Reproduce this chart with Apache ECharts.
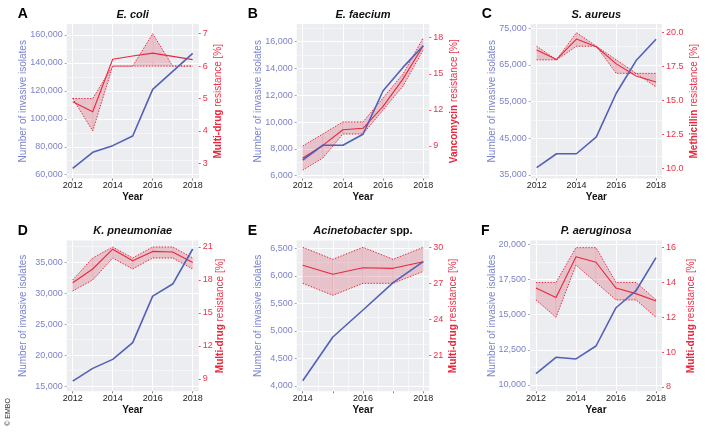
<!DOCTYPE html>
<html>
<head>
<meta charset="utf-8">
<script src="https://cdn.jsdelivr.net/npm/echarts@6/dist/echarts.min.js"></script>
<style>
  html, body { margin: 0; background: #fff; }
  #chart { width: 709px; height: 433px; }
</style>
</head>
<body>
<div id="chart"></div>
<script>
// ---- data ----
const years = [2012, 2013, 2014, 2015, 2016, 2017, 2018];
const yearsAcin = [2014, 2015, 2016, 2017, 2018];

const ecoliIsolates = [64600, 76000, 80800, 87700, 121100, 134000, 146900];
const ecoliMean = [4.9, 4.59, 6.21, 6.31, 6.4, 6.3, 6.2];
const ecoliUpper = [5, 5, 6, 6, 7, 6, 6];
const ecoliLower = [5, 4, 6, 6, 6, 6, 6];

const faeciumIsolates = [7170, 8270, 8270, 9090, 12340, 14100, 15700];
const faeciumMean = [8.0, 9.05, 10.35, 10.47, 12.3, 14.6, 17.33];
const faeciumUpper = [9, 10, 11, 11, 13, 15, 18];
const faeciumLower = [7, 8, 10, 10, 12, 14, 17];

const aureusIsolates = [37000, 40800, 40800, 45400, 57300, 66200, 72000];
const aureusMean = [18.72, 18.03, 19.53, 18.96, 17.7, 16.8, 16.36];
const aureusUpper = [19, 18, 20, 19, 18, 17, 17];
const aureusLower = [18, 18, 19, 19, 17, 17, 16];

const kpneuIsolates = [15800, 17850, 19300, 22000, 29500, 31450, 37100];
const kpneuMean = [17.75, 19.0, 20.8, 19.75, 20.6, 20.55, 19.6];
const kpneuUpper = [18, 20, 21, 20, 21, 21, 20];
const kpneuLower = [17, 18, 20, 19, 20, 20, 19];

const acinIsolates = [4096, 4890, 5380, 5876, 6257];
const acinMean = [28.5, 27.75, 28.3, 28.25, 28.8];
const acinUpper = [30, 29, 30, 29, 30];
const acinLower = [27, 26, 27, 27, 28];

const aerugIsolates = [10800, 11970, 11850, 12770, 15490, 16700, 19050];
const aerugMean = [13.68, 13.13, 15.48, 15.16, 13.68, 13.36, 12.94];
const aerugUpper = [14, 14, 16, 16, 14, 14, 13];
const aerugLower = [13, 12, 15, 14, 13, 13, 12];

// tick labels
const yearTicks = [2012, 2014, 2016, 2018];
const yearTicksAcin = [2014, 2015, 2016, 2017, 2018];
const yearLabelsAcin = [2014, 2016, 2018];
const ecoliLeftTicks = [60000, 80000, 100000, 120000, 140000, 160000];
const ecoliRightTicks = [3, 4, 5, 6, 7];
const faeciumLeftTicks = [6000, 8000, 10000, 12000, 14000, 16000];
const faeciumRightTicks = [9, 12, 15, 18];
const aureusLeftTicks = [35000, 45000, 55000, 65000, 75000];
const aureusRightTicks = [10, 12.5, 15, 17.5, 20];
const kpneuLeftTicks = [15000, 20000, 25000, 30000, 35000];
const kpneuRightTicks = [9, 12, 15, 18, 21];
const acinLeftTicks = [4000, 4500, 5000, 5500, 6000, 6500];
const acinRightTicks = [21, 24, 27, 30];
const aerugLeftTicks = [10000, 12500, 15000, 17500, 20000];
const aerugRightTicks = [8, 10, 12, 14, 16];

// ---- styling ----
const FONT = 'Liberation Sans';
const BLUE = '#5360b8';
const BLUE_TXT = '#7b83cb';
const RED = '#e8283e';
const RED_TXT = '#e8334a';
const BAND = 'rgba(222,110,128,0.33)';
const BG = '#ebedf0';

const panels = [
  { letter: 'A', title: '{i|E. coli}', x: years, iso: ecoliIsolates, mean: ecoliMean, up: ecoliUpper, lo: ecoliLower,
    xTicks: yearTicks, xLabels: yearTicks, xMinor: [2013, 2015, 2017], xRange: [2011.7, 2018.3],
    lTicks: ecoliLeftTicks, lRange: [57280, 167870], rTicks: ecoliRightTicks, rRange: [2.53, 7.30], rDec: 0,
    rName: '{b|Multi-drug} resistance [%]',
    grid: [66.7, 24, 132, 154.5], lGap: 38, rGap: 15 },
  { letter: 'B', title: '{i|E. faecium}', x: years, iso: faeciumIsolates, mean: faeciumMean, up: faeciumUpper, lo: faeciumLower,
    xTicks: yearTicks, xLabels: yearTicks, xMinor: [2013, 2015, 2017], xRange: [2011.7, 2018.3],
    lTicks: faeciumLeftTicks, lRange: [5790, 17320], rTicks: faeciumRightTicks, rRange: [6.30, 19.14], rDec: 0,
    rName: '{b|Vancomycin} resistance [%]',
    grid: [296.7, 24, 132.6, 154.5], lGap: 33, rGap: 20 },
  { letter: 'C', title: '{i|S. aureus}', x: years, iso: aureusIsolates, mean: aureusMean, up: aureusUpper, lo: aureusLower,
    xTicks: yearTicks, xLabels: yearTicks, xMinor: [2013, 2015, 2017], xRange: [2011.7, 2018.3],
    lTicks: aureusLeftTicks, lRange: [34050, 76170], rTicks: aureusRightTicks, rRange: [9.25, 20.64], rDec: 1,
    rName: '{b|Methicillin} resistance [%]',
    grid: [530.7, 24, 131.3, 154.5], lGap: 33, rGap: 27 },
  { letter: 'D', title: '{i|K. pneumoniae}', x: years, iso: kpneuIsolates, mean: kpneuMean, up: kpneuUpper, lo: kpneuLower,
    xTicks: yearTicks, xLabels: yearTicks, xMinor: [2013, 2015, 2017], xRange: [2011.7, 2018.3],
    lTicks: kpneuLeftTicks, lRange: [14150, 38470], rTicks: kpneuRightTicks, rRange: [7.88, 21.59], rDec: 0,
    rName: '{b|Multi-drug} resistance [%]',
    grid: [66.7, 240.5, 132, 150.8], lGap: 38, rGap: 17 },
  { letter: 'E', title: '{i|Acinetobacter} {n|spp.}', x: yearsAcin, iso: acinIsolates, mean: acinMean, up: acinUpper, lo: acinLower,
    xTicks: yearTicksAcin, xLabels: yearLabelsAcin, xMinor: [2014.5, 2015.5, 2016.5, 2017.5], xRange: [2013.8, 2018.2],
    lTicks: acinLeftTicks, lRange: [3904, 6642], rTicks: acinRightTicks, rRange: [18.0, 30.57], rDec: 0,
    rName: '{b|Multi-drug} resistance [%]',
    grid: [296.7, 240.5, 132.6, 150.8], lGap: 33, rGap: 19 },
  { letter: 'F', title: '{i|P. aeruginosa}', x: years, iso: aerugIsolates, mean: aerugMean, up: aerugUpper, lo: aerugLower,
    xTicks: yearTicks, xLabels: yearTicks, xMinor: [2013, 2015, 2017], xRange: [2011.7, 2018.3],
    lTicks: aerugLeftTicks, lRange: [9550, 20270], rTicks: aerugRightTicks, rRange: [7.75, 16.41], rDec: 0,
    rName: '{b|Multi-drug} resistance [%]',
    grid: [530, 240.5, 132, 150.8], lGap: 33, rGap: 24 }
];

function minorOf(ticks, range) {
  const step = ticks[1] - ticks[0];
  const out = [ticks[0] - step / 2];
  ticks.forEach(t => out.push(t + step / 2));
  return out.filter(v => v > range[0] && v < range[1]);
}

const grids = [], xAxes = [], yAxes = [], series = [], graphics = [];

panels.forEach((p, i) => {
  const [gl, gt, gw, gh] = p.grid;
  grids.push({ left: gl, top: gt, width: gw, height: gh, show: true, backgroundColor: BG,
    borderWidth: 0, containLabel: false, outerBoundsMode: 'none' });

  const xi = xAxes.length;
  xAxes.push({
    type: 'value', gridIndex: i, min: p.xRange[0], max: p.xRange[1],
    name: 'Year', nameLocation: 'middle', nameGap: 14, nameMoveOverlap: false,
    nameTextStyle: { fontFamily: FONT, fontWeight: 'bold', fontSize: 10, color: '#111' },
    axisLine: { show: false },
    axisTick: { show: true, length: 2, customValues: p.xTicks, lineStyle: { color: '#666', width: 0.8 } },
    axisLabel: { customValues: p.xLabels, margin: 3, fontFamily: FONT, fontSize: 9, color: '#222',
      formatter: v => String(v) },
    splitLine: { show: true, lineStyle: { color: '#fff', width: 1 } }
  });
  xAxes.push({
    type: 'value', gridIndex: i, min: p.xRange[0], max: p.xRange[1],
    axisLine: { show: false }, axisLabel: { show: false },
    axisTick: { show: false, customValues: p.xMinor },
    splitLine: { show: true, lineStyle: { color: '#fff', width: 0.5 } }
  });

  const yi = yAxes.length;
  yAxes.push({
    type: 'value', gridIndex: i, position: 'left', min: p.lRange[0], max: p.lRange[1],
    name: 'Number of invasive isolates', nameLocation: 'middle', nameRotate: 90, nameGap: p.lGap,
    nameMoveOverlap: false,
    nameTextStyle: { fontFamily: FONT, fontSize: 10, color: BLUE_TXT },
    axisLine: { show: false },
    axisTick: { show: true, length: 2, customValues: p.lTicks, lineStyle: { color: '#8a8fb8', width: 0.8 } },
    axisLabel: { customValues: p.lTicks, margin: 4, fontFamily: FONT, fontSize: 9, color: BLUE_TXT,
      formatter: v => Math.round(v).toLocaleString('en-US') },
    splitLine: { show: true, lineStyle: { color: '#fff', width: 1 } }
  });
  yAxes.push({
    type: 'value', gridIndex: i, position: 'right', min: p.rRange[0], max: p.rRange[1],
    name: p.rName, nameLocation: 'middle', nameRotate: 90, nameGap: p.rGap, nameMoveOverlap: false,
    nameTextStyle: { fontFamily: FONT, fontSize: 10, color: RED_TXT,
      rich: { b: { fontFamily: FONT, fontSize: 10, fontWeight: 'bold', color: RED } } },
    axisLine: { show: false },
    axisTick: { show: true, length: 2, customValues: p.rTicks, lineStyle: { color: RED, width: 0.8 } },
    axisLabel: { customValues: p.rTicks, margin: 4, fontFamily: FONT, fontSize: 9, color: RED_TXT,
      formatter: v => v.toFixed(p.rDec) },
    splitLine: { show: false }
  });
  yAxes.push({
    type: 'value', gridIndex: i, position: 'left', offset: 0, min: p.lRange[0], max: p.lRange[1],
    axisLine: { show: false }, axisLabel: { show: false },
    axisTick: { show: false, customValues: minorOf(p.lTicks, p.lRange) },
    splitLine: { show: true, lineStyle: { color: '#fff', width: 0.5 } }
  });

  // confidence band, one quad per year step
  const band = [];
  for (let k = 0; k < p.x.length - 1; k++) {
    band.push([p.x[k], p.lo[k], p.up[k], p.x[k + 1], p.lo[k + 1], p.up[k + 1]]);
  }
  series.push({
    type: 'custom', xAxisIndex: xi, yAxisIndex: yi + 1, data: band, silent: true, z: 1,
    encode: { x: [0, 3], y: [1, 2, 4, 5] },
    renderItem: (params, api) => {
      const pts = [
        api.coord([api.value(0), api.value(1)]),
        api.coord([api.value(0), api.value(2)]),
        api.coord([api.value(3), api.value(5)]),
        api.coord([api.value(3), api.value(4)])
      ];
      return { type: 'polygon', shape: { points: pts },
        style: { fill: BAND, stroke: BAND, lineWidth: 0.4 } };
    }
  });
  const pair = (xs, ys) => xs.map((x, k) => [x, ys[k]]);
  [p.up, p.lo].forEach(arr => series.push({
    type: 'line', xAxisIndex: xi, yAxisIndex: yi + 1, data: pair(p.x, arr), symbol: 'none', z: 2,
    lineStyle: { color: RED, width: 1, type: [1.3, 1.6] }, silent: true
  }));
  series.push({
    type: 'line', xAxisIndex: xi, yAxisIndex: yi + 1, data: pair(p.x, p.mean), symbol: 'none', z: 3,
    lineStyle: { color: RED, width: 1.1 }, silent: true
  });
  series.push({
    type: 'line', xAxisIndex: xi, yAxisIndex: yi, data: pair(p.x, p.iso), symbol: 'none', z: 4,
    lineStyle: { color: BLUE, width: 1.6 }, silent: true
  });

  // panel letter and title
  const ty = gt - 9.5;
  graphics.push({ type: 'text', x: gl - 49, y: ty, style: { text: p.letter, font: 'bold 14px "' + FONT + '"',
    fill: '#000', verticalAlign: 'middle' } });
  graphics.push({ type: 'text', x: gl + gw / 2, y: ty, style: {
    text: p.title, align: 'center', verticalAlign: 'middle', fill: '#111',
    rich: { i: { font: 'bold italic 11px "' + FONT + '"', fill: '#111' },
            n: { font: 'bold 11px "' + FONT + '"', fill: '#111' } } } });
});

graphics.push({ type: 'text', x: 8, y: 412, rotation: Math.PI / 2,
  style: { text: '\u00a9 EMBO', font: '7px "' + FONT + '"', fill: '#333', align: 'center', verticalAlign: 'middle' } });

const chart = echarts.init(document.getElementById('chart'), null, { renderer: 'canvas' });
chart.setOption({
  animation: false,
  backgroundColor: '#fff',
  grid: grids,
  xAxis: xAxes,
  yAxis: yAxes,
  series: series,
  graphic: graphics
});
</script>
</body>
</html>
